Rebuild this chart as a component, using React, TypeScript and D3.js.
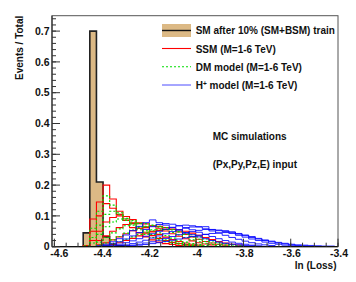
import React from "react";
import * as d3 from "d3";

const NB = 42;
const BIN_START = -4.59;
const BIN_W = 0.028;
const pad = (a: number[]) => [...a, ...Array(Math.max(0, NB - a.length)).fill(0)];

const smValues = pad([0, 0, 0, 0, 0.045, 0.70, 0.21, 0.032, 0.008, 0.003, 0.002]);

const ssmValues = [
  pad([0, 0, 0, 0, 0.004, 0.09, 0.145, 0.20, 0.155, 0.115, 0.085, 0.062, 0.045, 0.032, 0.022, 0.015, 0.01, 0.007, 0.004, 0.003, 0.002]),
  pad([0, 0, 0, 0, 0, 0.05, 0.1, 0.14, 0.125, 0.105, 0.09, 0.075, 0.06, 0.047, 0.036, 0.027, 0.02, 0.014, 0.01, 0.007, 0.004]),
  pad([0, 0, 0, 0, 0, 0.02, 0.05, 0.08, 0.095, 0.1, 0.098, 0.088, 0.075, 0.062, 0.05, 0.04, 0.031, 0.023, 0.017, 0.012, 0.008, 0.005]),
  pad([0, 0, 0, 0, 0, 0, 0.02, 0.035, 0.05, 0.062, 0.072, 0.078, 0.078, 0.074, 0.068, 0.06, 0.051, 0.042, 0.034, 0.026, 0.019, 0.013, 0.009, 0.006]),
  pad([0, 0, 0, 0, 0, 0, 0.006, 0.013, 0.022, 0.032, 0.042, 0.052, 0.06, 0.065, 0.067, 0.066, 0.062, 0.056, 0.048, 0.04, 0.032, 0.024, 0.017, 0.012, 0.008, 0.005]),
  pad([0, 0, 0, 0, 0, 0, 0, 0.004, 0.008, 0.013, 0.02, 0.027, 0.035, 0.042, 0.048, 0.053, 0.056, 0.057, 0.055, 0.05, 0.044, 0.037, 0.03, 0.023, 0.017, 0.012, 0.008, 0.005]),
];

const dmValues = [
  pad([0, 0, 0, 0, 0.003, 0.06, 0.115, 0.165, 0.135, 0.11, 0.085, 0.07, 0.055, 0.04, 0.03, 0.022, 0.016, 0.011, 0.008, 0.005, 0.003, 0.002]),
  pad([0, 0, 0, 0, 0, 0.03, 0.07, 0.105, 0.115, 0.105, 0.092, 0.08, 0.065, 0.052, 0.04, 0.03, 0.022, 0.016, 0.012, 0.008, 0.005, 0.003]),
  pad([0, 0, 0, 0, 0, 0.012, 0.04, 0.065, 0.08, 0.09, 0.09, 0.085, 0.075, 0.065, 0.055, 0.045, 0.036, 0.028, 0.021, 0.015, 0.01, 0.007, 0.004]),
  pad([0, 0, 0, 0, 0, 0, 0.015, 0.03, 0.045, 0.058, 0.068, 0.074, 0.076, 0.075, 0.07, 0.063, 0.055, 0.046, 0.038, 0.03, 0.022, 0.016, 0.011, 0.007, 0.004]),
  pad([0, 0, 0, 0, 0, 0, 0.005, 0.012, 0.022, 0.033, 0.044, 0.054, 0.062, 0.066, 0.068, 0.066, 0.062, 0.056, 0.048, 0.04, 0.032, 0.024, 0.017, 0.012, 0.008, 0.005]),
  pad([0, 0, 0, 0, 0, 0, 0, 0.004, 0.01, 0.016, 0.024, 0.032, 0.04, 0.047, 0.052, 0.055, 0.056, 0.054, 0.05, 0.045, 0.039, 0.032, 0.025, 0.019, 0.014, 0.01, 0.006, 0.004]),
];

const hpValues = [
  pad([0, 0, 0, 0, 0, 0, 0.003, 0.008, 0.016, 0.026, 0.038, 0.052, 0.066, 0.078, 0.087, 0.078, 0.07, 0.062, 0.054, 0.046, 0.039, 0.032, 0.026, 0.02, 0.015, 0.011, 0.008, 0.006, 0.004, 0.003]),
  pad([0, 0, 0, 0, 0, 0, 0, 0.004, 0.009, 0.016, 0.025, 0.035, 0.046, 0.056, 0.065, 0.072, 0.075, 0.073, 0.068, 0.062, 0.055, 0.047, 0.04, 0.033, 0.026, 0.02, 0.015, 0.011, 0.008, 0.005, 0.003]),
  pad([0, 0, 0, 0, 0, 0, 0, 0, 0.004, 0.008, 0.013, 0.019, 0.026, 0.034, 0.042, 0.05, 0.057, 0.063, 0.068, 0.07, 0.068, 0.064, 0.058, 0.051, 0.044, 0.037, 0.03, 0.024, 0.018, 0.013, 0.009, 0.006, 0.004]),
  pad([0, 0, 0, 0, 0, 0, 0, 0, 0, 0.003, 0.006, 0.01, 0.015, 0.021, 0.028, 0.035, 0.042, 0.049, 0.055, 0.06, 0.064, 0.065, 0.065, 0.056, 0.052, 0.049, 0.043, 0.037, 0.031, 0.025, 0.02, 0.015, 0.011, 0.008, 0.005, 0.003]),
  pad([0, 0, 0, 0, 0, 0, 0, 0, 0, 0, 0.003, 0.005, 0.008, 0.012, 0.016, 0.021, 0.027, 0.033, 0.039, 0.044, 0.049, 0.053, 0.056, 0.055, 0.054, 0.052, 0.048, 0.041, 0.036, 0.03, 0.025, 0.02, 0.016, 0.012, 0.009, 0.006, 0.004, 0.003]),
  pad([0, 0, 0, 0, 0, 0, 0, 0, 0, 0, 0, 0.003, 0.005, 0.007, 0.01, 0.013, 0.017, 0.021, 0.025, 0.029, 0.033, 0.037, 0.04, 0.043, 0.045, 0.046, 0.047, 0.043, 0.038, 0.033, 0.027, 0.022, 0.018, 0.014, 0.011, 0.008, 0.006, 0.005, 0.004, 0.003, 0.002, 0.002]),
];

const xTicks = [-4.6, -4.4, -4.2, -4, -3.8, -3.6, -3.4];
const yTicks = [0, 0.1, 0.2, 0.3, 0.4, 0.5, 0.6, 0.7];

const legendLabels = ["SM after 10% (SM+BSM) train", "SSM  (M=1-6 TeV)", "DM model (M=1-6 TeV)", "H⁺ model (M=1-6 TeV)"];
const noteLines = ["MC simulations", "(Px,Py,Pz,E) input"];

const W = 356, H = 282;
const L = 52, R = 338, T = 15.7, B = 246.7;
const FONT = "'Liberation Sans', Arial, Helvetica, sans-serif";

export default function App() {
  const x = d3.scaleLinear().domain([-4.61, -3.4]).range([L, R]);
  const y = d3.scaleLinear().domain([0, 0.75]).range([B, T]);
  const edges = d3.range(NB + 1).map((i) => BIN_START + i * BIN_W);

  const stepPath = (vals: number[], close = false) => {
    let p = `M${x(edges[0])},${y(0)}`;
    vals.forEach((v, i) => {
      p += `L${x(edges[i])},${y(v)}L${x(edges[i + 1])},${y(v)}`;
    });
    p += `L${x(edges[NB])},${y(0)}`;
    if (close) p += "Z";
    return p;
  };

  const xMinor = d3.range(-4.6, -3.399, 0.05);
  const yMinor = d3.range(0, 0.7501, 0.02);

  return (
    <svg width={W} height={H} style={{ position: "absolute", left: 0, top: 0, background: "#fff" }} fontFamily={FONT}>
      <defs>
        <clipPath id="frame">
          <rect x={L} y={T} width={R - L} height={B - T} />
        </clipPath>
      </defs>
      <rect x={0} y={0} width={W} height={H} fill="#fff" />
      <g clipPath="url(#frame)">
        <path d={stepPath(smValues, true)} fill="#dcb985" stroke="#222" strokeWidth={1.6} />
        {ssmValues.map((v, i) => (
          <path key={"r" + i} d={stepPath(v)} fill="none" stroke="#ff0000" strokeWidth={1.1} />
        ))}
        {dmValues.map((v, i) => (
          <path key={"g" + i} d={stepPath(v)} fill="none" stroke="#00dd00" strokeWidth={1.1} strokeDasharray="2,2" />
        ))}
        {hpValues.map((v, i) => (
          <path key={"b" + i} d={stepPath(v)} fill="none" stroke="#0000ff" strokeWidth={1} strokeOpacity={0.85} />
        ))}
      </g>
      <rect x={L} y={T} width={R - L} height={B - T} fill="none" stroke="#555" strokeWidth={1} />
      <line x1={L} x2={R} y1={B} y2={B} stroke="#111" strokeWidth={1.2} />
      <line x1={L} x2={L} y1={T} y2={B} stroke="#333" strokeWidth={1.2} />
      {xMinor.map((t, i) => (
        <line key={"xm" + i} x1={x(t)} x2={x(t)} y1={B} y2={B - 4} stroke="#333" />
      ))}
      {xTicks.map((t, i) => (
        <g key={"xt" + t}>
          <line x1={x(t)} x2={x(t)} y1={B} y2={B - 8} stroke="#333" />
          <text x={x(t) + (i === 0 ? 5 : 1)} y={257} textAnchor="middle" fontSize={10.5} fontWeight="bold" fill="#111">
            {String(t)}
          </text>
        </g>
      ))}
      {yMinor.map((t, i) => (
        <line key={"ym" + i} x1={L} x2={L + 4} y1={y(t)} y2={y(t)} stroke="#333" />
      ))}
      {yTicks.map((t) => (
        <g key={"yt" + t}>
          <line x1={L} x2={L + 8} y1={y(t)} y2={y(t)} stroke="#333" />
          <text x={49.5} y={y(t) + (t === 0 ? 2.8 : 3.7)} textAnchor="end" fontSize={10.5} fontWeight="bold" fill="#111">
            {String(t)}
          </text>
        </g>
      ))}
      <text x={336.5} y={268.5} textAnchor="end" fontSize={10} fontWeight="bold" fill="#111">
        ln (Loss)
      </text>
      <text transform={`translate(22.5,${T}) rotate(-90)`} textAnchor="end" fontSize={10} fontWeight="bold" fill="#111">
        Events / Total
      </text>
      <g>
        <rect x={162} y={24} width={29} height={13} fill="#dcb985" />
        <line x1={162} x2={191} y1={30.5} y2={30.5} stroke="#111" strokeWidth={1.4} />
        <line x1={162} x2={191} y1={48.5} y2={48.5} stroke="#ff0000" strokeWidth={1.1} />
        <line x1={162} x2={191} y1={66.8} y2={66.8} stroke="#00dd00" strokeWidth={1.1} strokeDasharray="2,2" />
        <line x1={162} x2={191} y1={85} y2={85} stroke="#0000ff" strokeWidth={1} strokeOpacity={0.7} />
        {legendLabels.map((l, i) => (
          <text key={l} x={195.7} y={34.3 + i * 18.3} fontSize={10} fontWeight="bold" fill="#111">
            {i === 3 ? (
              <>
                H<tspan dy={-3.5} fontSize={6.5}>+</tspan>
                <tspan dy={3.5}> model (M=1-6 TeV)</tspan>
              </>
            ) : (
              l
            )}
          </text>
        ))}
      </g>
      {noteLines.map((n, i) => (
        <text key={n} x={212.7} y={140 + i * 28} fontSize={10} fontWeight="bold" fill="#111">
          {n}
        </text>
      ))}
    </svg>
  );
}
